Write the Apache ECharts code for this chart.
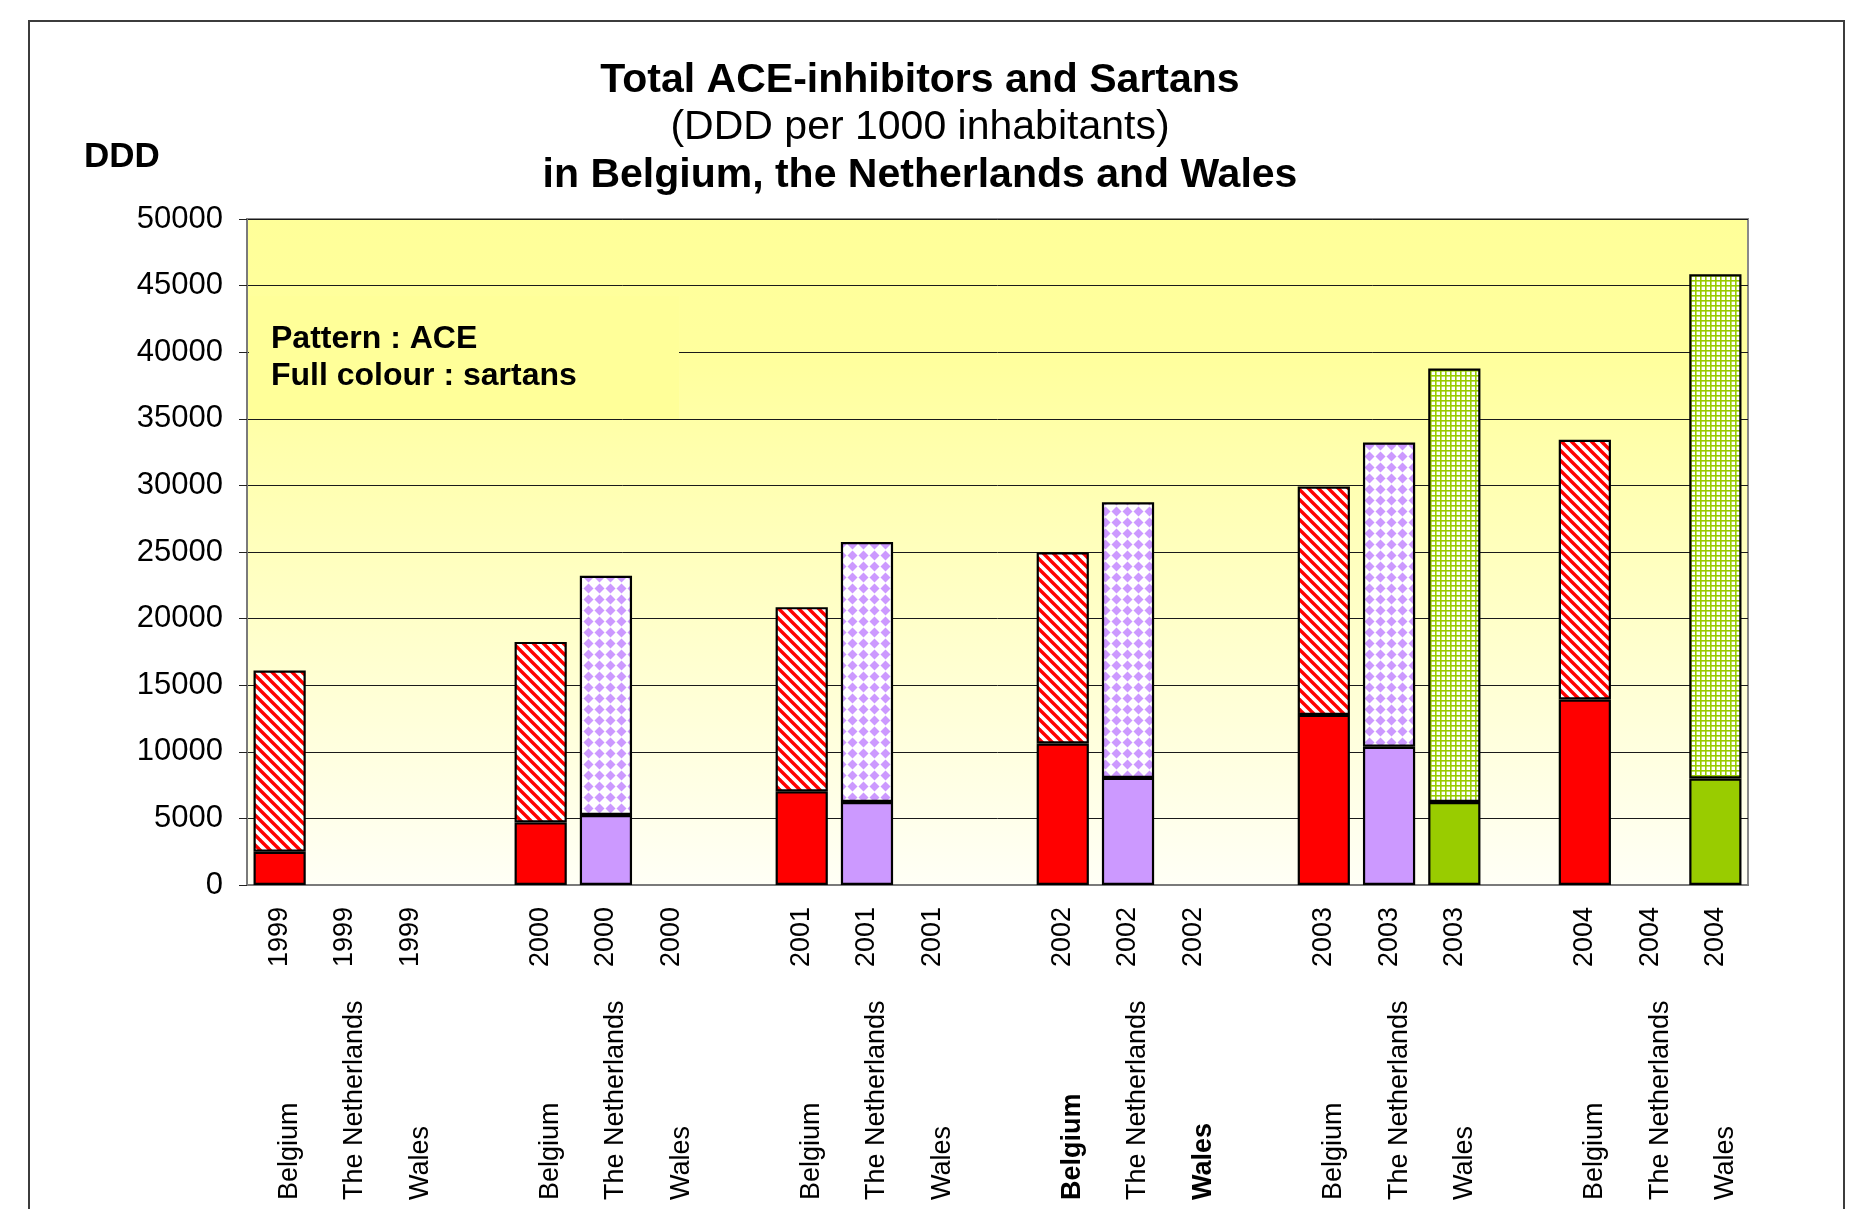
<!DOCTYPE html>
<html>
<head>
<meta charset="utf-8">
<script src="https://cdn.jsdelivr.net/npm/echarts@6/dist/echarts.min.js"></script>
<style>
html,body{margin:0;padding:0;background:#fff;}
#chart{width:1851px;height:1209px;}
</style>
</head>
<body>
<div id="chart"></div>
<script>
// ---------- data ----------
const years = ['1999', '2000', '2001', '2002', '2003', '2004'];
const countries = ['Belgium', 'The Netherlands', 'Wales'];

// sartans (full colour, bottom segment)
const belgiumSartans     = [2500, 4700, 7030, 10620, 12770, 13930];
const netherlandsSartans = [null, 5260, 6230, 8040, 10380, null];
const walesSartans       = [null, null, null, null, 6230, 8000];

// ACE-inhibitors (pattern, top segment)
const belgiumAce     = [13600, 13550, 13830, 14360, 17140, 19490];
const netherlandsAce = [null, 17950, 19520, 20690, 22840, null];
const walesAce       = [null, null, null, null, 32550, 37850];

const boldLabels = ['2002|Belgium', '2002|Wales'];

// ---------- patterns ----------
const FONT = "'Liberation Sans', Arial, sans-serif";
function tile(size, draw) {
  const c = document.createElement('canvas');
  c.width = size; c.height = size;
  const ctx = c.getContext('2d');
  ctx.fillStyle = '#ffffff';
  ctx.fillRect(0, 0, size, size);
  draw(ctx, size);
  return { image: c, repeat: 'repeat' };
}
const stripePattern = tile(10, (ctx, s) => {
  ctx.strokeStyle = '#ff0000';
  ctx.lineWidth = 3.4;
  for (let k = -1; k <= 1; k++) {
    ctx.beginPath();
    ctx.moveTo(-2, k * s - 2);
    ctx.lineTo(s + 2, k * s + s + 2);
    ctx.stroke();
  }
});
const diamondPattern = tile(11, (ctx, s) => {
  ctx.fillStyle = '#cc99ff';
  const c = s / 2, r = 5;
  ctx.beginPath();
  ctx.moveTo(c, c - r); ctx.lineTo(c + r, c); ctx.lineTo(c, c + r); ctx.lineTo(c - r, c);
  ctx.closePath(); ctx.fill();
});
const gridPattern = tile(5, (ctx, s) => {
  ctx.fillStyle = '#99cc00';
  ctx.fillRect(0, 0, s, 1.6);
  ctx.fillRect(0, 0, 1.6, s);
});

const solidColors = ['#ff0000', '#cc99ff', '#99cc00'];
const patternColors = [stripePattern, diamondPattern, gridPattern];
const sartansByCountry = [belgiumSartans, netherlandsSartans, walesSartans];
const aceByCountry = [belgiumAce, netherlandsAce, walesAce];

// ---------- build categories ----------
const cats = [];
const sartansData = [];
const aceData = [];
years.forEach((y, yi) => {
  if (yi > 0) { cats.push('gap' + yi); sartansData.push('-'); aceData.push('-'); }
  countries.forEach((c, ci) => {
    cats.push(y + '|' + c);
    const s = sartansByCountry[ci][yi];
    const a = aceByCountry[ci][yi];
    sartansData.push(s == null ? '-' : { value: s, itemStyle: { color: solidColors[ci] } });
    aceData.push(a == null ? '-' : { value: a, itemStyle: { color: patternColors[ci] } });
  });
});

const chart = echarts.init(document.getElementById('chart'), null, { renderer: 'canvas' });
const option = {
  animation: false,
  backgroundColor: '#ffffff',
  textStyle: { fontFamily: FONT },
  grid: {
    left: 247, right: 103, top: 219, bottom: 324,
    show: true,
    backgroundColor: {
      type: 'linear', x: 0, y: 0, x2: 0, y2: 1,
      colorStops: [
        { offset: 0, color: '#ffff99' },
        { offset: 0.22, color: '#ffff9e' },
        { offset: 1, color: '#fffff6' }
      ]
    },
    borderColor: '#8a8a8a', borderWidth: 2
  },
  xAxis: [
    {
      type: 'category', data: cats, gridIndex: 0,
      axisLine: { show: true, lineStyle: { color: '#7a7a7a', width: 2 } },
      axisTick: { show: false },
      splitLine: { show: false },
      axisLabel: {
        interval: 0, rotate: 90, margin: 22, fontSize: 27, color: '#000', fontFamily: FONT,
        formatter: v => v.indexOf('|') < 0 ? '' : v.split('|')[0]
      }
    },
    {
      type: 'category', data: cats, gridIndex: 0, position: 'bottom', offset: 305,
      axisLine: { show: false }, axisTick: { show: false }, splitLine: { show: false },
      axisLabel: {
        interval: 0, rotate: 90, align: 'left', margin: 10, padding: [20, 0, 0, 0],
        fontSize: 27, color: '#000', fontFamily: FONT,
        formatter: v => {
          if (v.indexOf('|') < 0) return '';
          const name = v.split('|')[1];
          return boldLabels.indexOf(v) >= 0 ? '{b|' + name + '}' : name;
        },
        rich: { b: { fontWeight: 'bold', fontSize: 27, fontFamily: FONT, color: '#000' } }
      }
    }
  ],
  yAxis: {
    type: 'value', min: 0, max: 50000, interval: 5000,
    axisLine: { show: true, lineStyle: { color: '#7a7a7a', width: 2 } },
    axisTick: { show: true, length: 8, lineStyle: { color: '#222', width: 1 } },
    axisLabel: { fontSize: 31, color: '#000', margin: 24, fontFamily: FONT, formatter: v => String(v) },
    splitLine: { show: true, lineStyle: { color: '#1a1a1a', width: 1 } }
  },
  series: [
    {
      name: 'sartans', type: 'bar', stack: 'total', barWidth: '80%', xAxisIndex: 0,
      itemStyle: { borderColor: '#000', borderWidth: 2.2 },
      data: sartansData
    },
    {
      name: 'ACE', type: 'bar', stack: 'total', barWidth: '80%', xAxisIndex: 0,
      itemStyle: { borderColor: '#000', borderWidth: 2.2 },
      data: aceData
    }
  ],
  graphic: [
    { type: 'rect', silent: true, z: 100, shape: { x: 29, y: 21, width: 1815, height: 1400 },
      style: { fill: 'none', stroke: '#3c3c3c', lineWidth: 2 } },
    { type: 'rect', silent: true, z: 5, shape: { x: 249, y: 296, width: 430, height: 123 },
      style: { fill: '#ffff99' } },
    { type: 'text', z: 6, x: 271, y: 339,
      style: { text: 'Pattern : ACE', fontSize: 32, fontWeight: 'bold', fontFamily: FONT, fill: '#000', align: 'left', verticalAlign: 'middle' } },
    { type: 'text', z: 6, x: 271, y: 376,
      style: { text: 'Full colour : sartans', fontSize: 32, fontWeight: 'bold', fontFamily: FONT, fill: '#000', align: 'left', verticalAlign: 'middle' } },
    { type: 'text', z: 6, x: 920, y: 81,
      style: { text: 'Total ACE-inhibitors and Sartans', fontSize: 41, fontWeight: 'bold', fontFamily: FONT, fill: '#000', align: 'center', verticalAlign: 'middle' } },
    { type: 'text', z: 6, x: 920, y: 128,
      style: { text: '(DDD per 1000 inhabitants)', fontSize: 41, fontWeight: 'normal', fontFamily: FONT, fill: '#000', align: 'center', verticalAlign: 'middle' } },
    { type: 'text', z: 6, x: 920, y: 176,
      style: { text: 'in Belgium, the Netherlands and Wales', fontSize: 41, fontWeight: 'bold', fontFamily: FONT, fill: '#000', align: 'center', verticalAlign: 'middle' } },
    { type: 'text', z: 6, x: 84, y: 157,
      style: { text: 'DDD', fontSize: 35, fontWeight: 'bold', fontFamily: FONT, fill: '#000', align: 'left', verticalAlign: 'middle' } }
  ]
};
chart.setOption(option);
</script>
</body>
</html>
